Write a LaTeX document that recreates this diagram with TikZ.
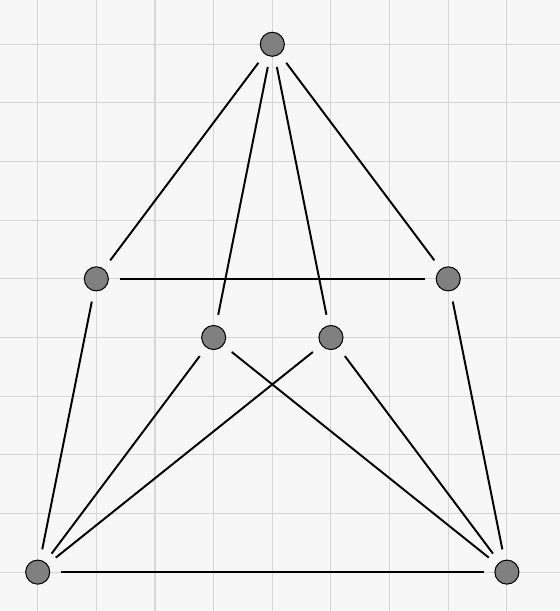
\documentclass[tikz,border=0pt]{standalone}
\usepackage{xcolor}
\usepackage{tikz}
\usetikzlibrary{positioning}

\definecolor{paper}{RGB}{247,247,247}
\definecolor{gridline}{RGB}{214,214,214}

\begin{document}
\begin{tikzpicture}[
    vertex/.style={circle, draw=black, line width=0.5pt, fill=gray, minimum size=0.41cm, inner sep=0pt, outer sep=0.19cm},
    edge/.style={line width=0.95pt, draw=black}
]
    % paper and grid
    \fill[paper] (-0.643,-0.663) rectangle (8.905,9.755);
    \useasboundingbox (-0.643,-0.663) rectangle (8.905,9.755);
    \draw[gridline, line width=0.5pt] (-0.643,-0.663) grid[step=1] (8.905,9.755);

    \node[vertex] (top) at (4,9) {};
    \node[vertex] (left) at (1,5) {};
    \node[vertex] (right) at (7,5) {};
    \node[vertex] (midl) at (3,4) {};
    \node[vertex] (midr) at (5,4) {};
    \node[vertex] (botl) at (0,0) {};
    \node[vertex] (botr) at (8,0) {};

    \draw[edge] (top) -- (left);
    \draw[edge] (top) -- (midl);
    \draw[edge] (top) -- (midr);
    \draw[edge] (top) -- (right);
    \draw[edge] (left) -- (right);
    \draw[edge] (left) -- (botl);
    \draw[edge] (right) -- (botr);
    \draw[edge] (midl) -- (botl);
    \draw[edge] (midl) -- (botr);
    \draw[edge] (midr) -- (botl);
    \draw[edge] (midr) -- (botr);
    \draw[edge] (botl) -- (botr);
\end{tikzpicture}
\end{document}
